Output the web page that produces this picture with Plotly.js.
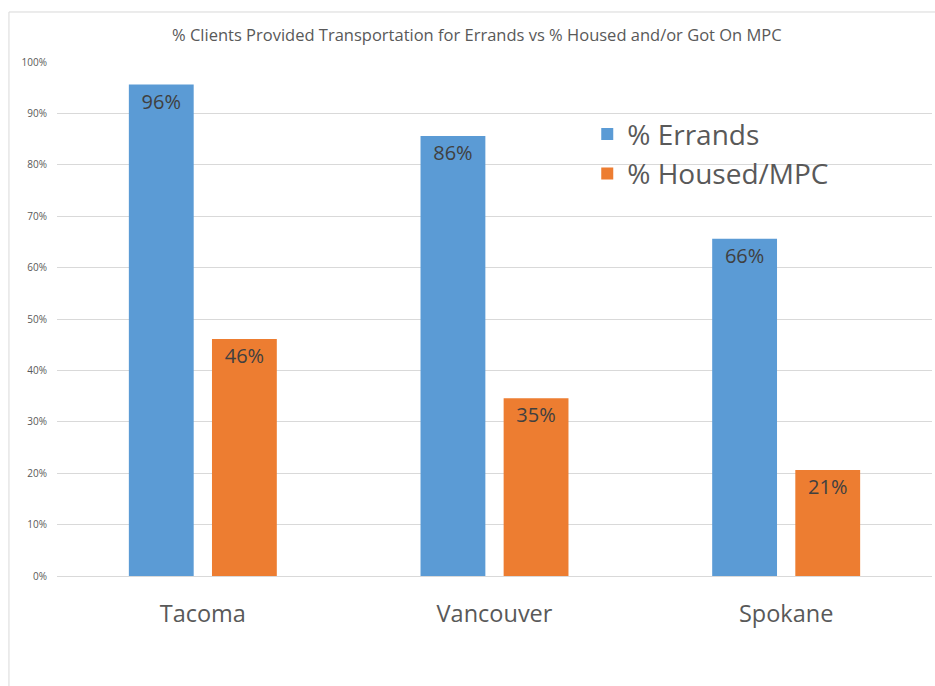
<!DOCTYPE html>
<html>
<head>
<meta charset="utf-8">
<script src="https://cdn.plot.ly/plotly-3.0.1.min.js"></script>
<style>html,body{margin:0;padding:0;background:#fff;}#chart{width:935px;height:686px;}</style>
</head>
<body>
<div id="chart"></div>
<script>
const categories = ["Tacoma", "Vancouver", "Spokane"];
const errands = [0.956, 0.856, 0.656];
const housed = [0.461, 0.346, 0.206];
const seriesNames = ["% Errands", "% Housed/MPC"];
const yTicks = [0, 0.1, 0.2, 0.3, 0.4, 0.5, 0.6, 0.7, 0.8, 0.9, 1.0];

const labelFont = {family: "Open Sans, sans-serif", size: 20, color: "#404040"};
const traces = [
  {type: "bar", name: seriesNames[0], x: categories, y: errands,
   marker: {color: "#5B9BD5"}, texttemplate: "%{y:.0%}", textposition: "inside",
   insidetextanchor: "end", textfont: labelFont, hoverinfo: "none"},
  {type: "bar", name: seriesNames[1], x: categories, y: housed,
   marker: {color: "#ED7D31"}, texttemplate: "%{y:.0%}", textposition: "inside",
   insidetextanchor: "end", textfont: labelFont, hoverinfo: "none"}
];

const layout = {
  width: 935, height: 686,
  margin: {l: 57, r: 3, t: 62, b: 110},
  paper_bgcolor: "#fff", plot_bgcolor: "#fff",
  title: {text: "% Clients Provided Transportation for Errands vs % Housed and/or Got On MPC",
          font: {family: "Open Sans, sans-serif", size: 16.5, color: "#595959"},
          x: 0.51, xanchor: "center", y: 0.949, yanchor: "middle"},
  barmode: "group", bargap: 0.43, bargroupgap: 0.22,
  xaxis: {tickfont: {family: "Open Sans, sans-serif", size: 23.5, color: "#595959"},
          showline: false, ticks: "", ticklabelstandoff: 21},
  yaxis: {range: [0, 1], tickvals: yTicks, tickformat: ".0%",
          tickfont: {family: "Open Sans, sans-serif", size: 10, color: "#595959"},
          gridcolor: "#d9d9d9", gridwidth: 1, zeroline: true, zerolinecolor: "#d9d9d9",
          ticks: "", ticklabelstandoff: 9, showline: false},
  legend: {x: 0.606, y: 0.908, xanchor: "left", yanchor: "top",
           font: {family: "Open Sans, sans-serif", size: 28, color: "#595959"},
           bgcolor: "rgba(0,0,0,0)", tracegroupgap: 0},
  shapes: [{type: "rect", xref: "paper", yref: "paper",
            x0: -0.0549, x1: 1.2, y0: -0.5, y1: 1.0973,
            line: {color: "#d9d9d9", width: 1}, fillcolor: "rgba(0,0,0,0)", layer: "below"}],
  showlegend: true
};

Plotly.newPlot("chart", traces, layout, {displayModeBar: false, staticPlot: true});
</script>
</body>
</html>
